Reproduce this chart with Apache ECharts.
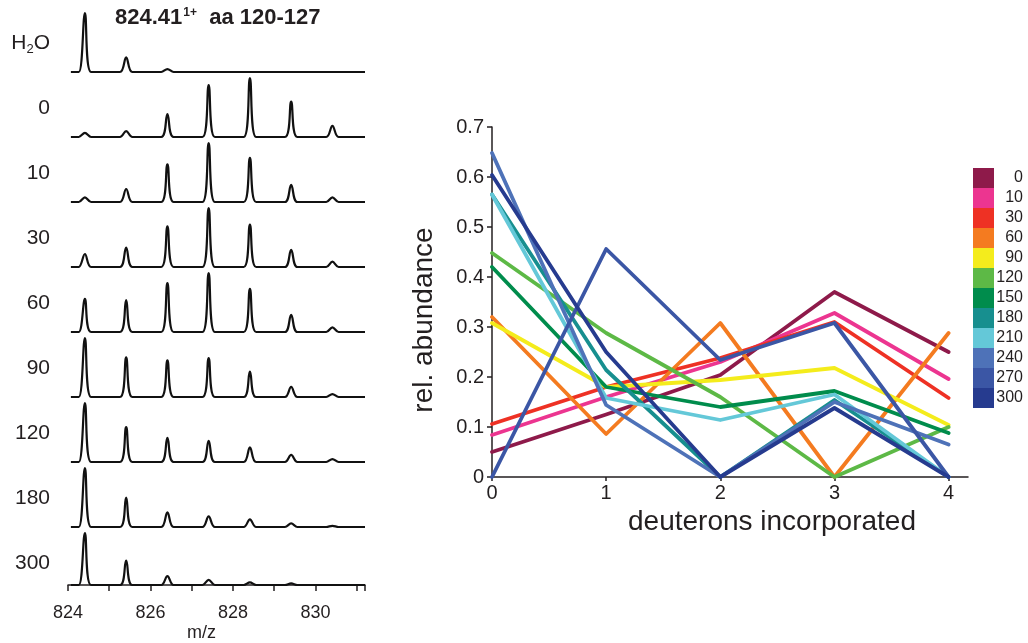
<!DOCTYPE html>
<html>
<head>
<meta charset="utf-8">
<script src="https://cdn.jsdelivr.net/npm/echarts@6/dist/echarts.min.js"></script>
<style>
  html, body { margin: 0; padding: 0; background: #fff; }
  #main { width: 1028px; height: 643px; }
</style>
</head>
<body>
<div id="main"></div>
<script>
// left panel: mass spectra, one trace per exchange time
var peakMz = [824.41, 825.41, 826.41, 827.41, 828.41, 829.41, 830.41];
var traceLabels = ['H2O', '0', '10', '30', '60', '90', '120', '180', '300'];
var peaksH2O = [1.0, 0.25, 0.05, 0, 0, 0, 0];
var peaks0 = [0.07, 0.10, 0.39, 0.88, 1.0, 0.60, 0.19];
var peaks10 = [0.08, 0.22, 0.64, 1.0, 0.75, 0.29, 0.08];
var peaks30 = [0.22, 0.33, 0.69, 1.0, 0.72, 0.29, 0.09];
var peaks60 = [0.56, 0.54, 0.83, 1.0, 0.73, 0.29, 0.08];
var peaks90 = [1.0, 0.67, 0.62, 0.66, 0.43, 0.17, 0.05];
var peaks120 = [1.0, 0.59, 0.41, 0.36, 0.25, 0.12, 0.05];
var peaks180 = [1.0, 0.50, 0.25, 0.18, 0.13, 0.06, 0.02];
var peaks300 = [1.0, 0.47, 0.17, 0.10, 0.05, 0.03, 0];
var allPeaks = [peaksH2O, peaks0, peaks10, peaks30, peaks60, peaks90, peaks120, peaks180, peaks300];

// right panel: relative abundance vs deuterons incorporated
var deuterons = [0, 1, 2, 3, 4];
var timeNames = ['0', '10', '30', '60', '90', '120', '150', '180', '210', '240', '270', '300'];
var abund0 = [0.05, 0.125, 0.204, 0.37, 0.25];
var abund10 = [0.084, 0.16, 0.23, 0.328, 0.196];
var abund30 = [0.106, 0.18, 0.238, 0.31, 0.158];
var abund60 = [0.32, 0.086, 0.308, 0, 0.288];
var abund90 = [0.308, 0.18, 0.194, 0.218, 0.104];
var abund120 = [0.448, 0.288, 0.16, 0, 0.1];
var abund150 = [0.42, 0.18, 0.14, 0.172, 0.088];
var abund180 = [0.565, 0.214, 0, 0.154, 0];
var abund210 = [0.565, 0.158, 0.114, 0.165, 0];
var abund240 = [0.648, 0.144, 0, 0.15, 0.065];
var abund270 = [0, 0.456, 0.234, 0.308, 0];
var abund300 = [0.604, 0.25, 0, 0.138, 0];
var allAbund = [abund0, abund10, abund30, abund60, abund90, abund120, abund150, abund180, abund210, abund240, abund270, abund300];

var colors = ['#8e1a4a', '#ec3590', '#ee3124', '#f47b20', '#f4ec1c', '#5db946',
              '#008c4c', '#178f8f', '#64c8d8', '#4e72b8', '#3b56a5', '#263b8f'];
var textColor = '#231f20';
var font = 'Liberation Sans';

var chartDom = document.getElementById('main');
var myChart = echarts.init(chartDom);
var option;

var grids = [], xAxes = [], yAxes = [], series = [], graphics = [];
var baseY = 72, stepY = 65, traceH = 59;
var halfW = 0.15;

allPeaks.forEach(function (peaks, i) {
    var last = i === allPeaks.length - 1;
    var bottom = baseY + i * stepY;
    grids.push({left: 68, width: 297, top: bottom - traceH, height: traceH});
    xAxes.push({
        type: 'value', gridIndex: i, min: 824, max: 831.2, interval: 1,
        show: last, offset: last ? 10 : 0,
        name: last ? 'm/z' : '', nameLocation: 'middle', nameGap: 29,
        nameTextStyle: {fontFamily: font, fontSize: 18, color: textColor, padding: [0, 30, 0, 0]},
        axisLine: {lineStyle: {color: textColor, width: 1.5}},
        axisTick: {length: 6, lineStyle: {color: textColor, width: 1.5}},
        axisLabel: {
            fontFamily: font, fontSize: 18, color: textColor, margin: 9,
            formatter: function (v) { return v % 2 === 0 ? String(v) : ''; }
        },
        splitLine: {show: false}
    });
    yAxes.push({type: 'value', gridIndex: i, min: 0, max: 1, show: false});
    var pts = [[824.07, 0]];
    peakMz.forEach(function (mz, k) {
        pts.push([mz - halfW, 0], [mz, peaks[k]], [mz + halfW, 0]);
    });
    pts.push([831.2, 0]);
    series.push({
        type: 'line', xAxisIndex: i, yAxisIndex: i, data: pts,
        symbol: 'none', clip: false, silent: true, smooth: 0.35,
        lineStyle: {color: '#111', width: 2.2, join: 'round'},
        legendHoverLink: false
    });
    var label = traceLabels[i];
    graphics.push({
        type: 'text', right: 1028 - 50, top: bottom - 39,
        style: {
            text: label === 'H2O' ? 'H{s|2}O' : label,
            fontFamily: font, fontSize: 21, fill: textColor, align: 'right',
            rich: {s: {fontSize: 13, padding: [12, 0, 0, 0], fontFamily: font, fill: textColor}}
        }
    });
});

var gi = allPeaks.length;
grids.push({left: 492, top: 127, width: 476, height: 350});
xAxes.push({
    type: 'value', gridIndex: gi, min: 0, max: 4.17, interval: 1,
    name: 'deuterons incorporated', nameLocation: 'middle', nameGap: 19,
    nameTextStyle: {fontFamily: font, fontSize: 28, color: textColor, padding: [0, 0, 0, 84]},
    axisLine: {lineStyle: {color: textColor, width: 1.5}},
    axisTick: {length: 4, customValues: deuterons, lineStyle: {color: textColor, width: 1.5}},
    axisLabel: {
        fontFamily: font, fontSize: 20, color: textColor, margin: 6,
        customValues: deuterons,
        formatter: function (v) { return Number.isInteger(v) ? String(v) : ''; }
    },
    splitLine: {show: false}
});
yAxes.push({
    type: 'value', gridIndex: gi, min: 0, max: 0.7, interval: 0.1,
    name: 'rel. abundance', nameLocation: 'middle', nameGap: 54,
    nameTextStyle: {fontFamily: font, fontSize: 28, color: textColor, padding: [0, 36, 0, 0]},
    axisLine: {show: true, lineStyle: {color: textColor, width: 1.5}},
    axisTick: {show: true, length: 5, lineStyle: {color: textColor, width: 1.5}},
    axisLabel: {
        fontFamily: font, fontSize: 20, color: textColor, margin: 8,
        formatter: function (v) { return v === 0 ? '0' : v.toFixed(1); }
    },
    splitLine: {show: false}
});
allAbund.forEach(function (vals, j) {
    series.push({
        name: timeNames[j], type: 'line', xAxisIndex: gi, yAxisIndex: gi,
        data: deuterons.map(function (d, k) { return [d, vals[k]]; }),
        symbol: 'none', clip: false,
        lineStyle: {color: colors[j], width: 3.8, cap: 'round', join: 'round'},
        itemStyle: {color: colors[j]}
    });
});

option = {
    animation: false,
    backgroundColor: '#fff',
    title: {
        text: '{b|824.41}{s|1+}{b|  aa 120-127}',
        left: 110, top: 2,
        textStyle: {
            rich: {
                b: {fontFamily: font, fontSize: 22, fontWeight: 'bold', color: textColor},
                s: {fontFamily: font, fontSize: 12, fontWeight: 'bold', color: textColor, padding: [0, 0, 10, 1]}
            }
        }
    },
    legend: {
        data: timeNames, orient: 'vertical', left: 968, top: 163,
        icon: 'rect', itemWidth: 21, itemHeight: 20, itemGap: 0,
        selectedMode: false,
        formatter: '{a|{name}}',
        textStyle: {
            rich: {a: {width: 24, align: 'right', fontFamily: font, fontSize: 16, color: textColor, lineHeight: 20}}
        }
    },
    grid: grids,
    xAxis: xAxes,
    yAxis: yAxes,
    series: series,
    graphic: graphics
};

option && myChart.setOption(option);
</script>
</body>
</html>
